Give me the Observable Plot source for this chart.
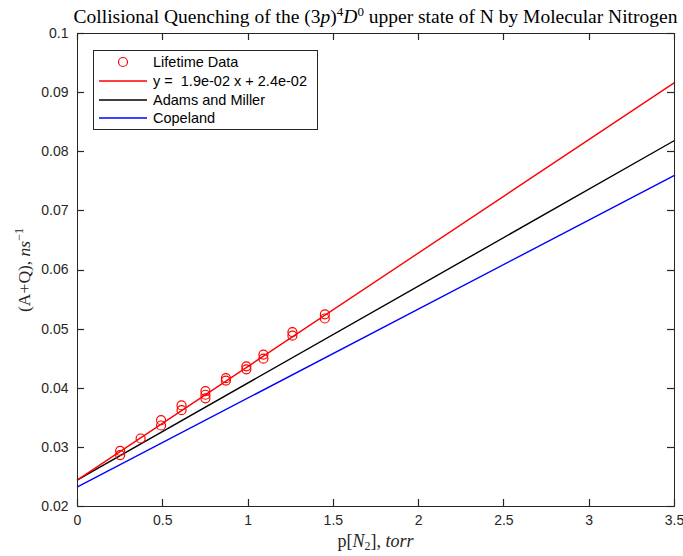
<!DOCTYPE html>
<html>
<head>
<meta charset="utf-8">
<script src="https://cdn.jsdelivr.net/npm/d3@7"></script>
<script src="https://cdn.jsdelivr.net/npm/@observablehq/plot@0.6"></script>
<style>
  html, body { margin: 0; padding: 0; background: #fff; }
  #chart { width: 683px; height: 556px; }
</style>
</head>
<body>
<div id="chart"></div>
<script>
// ---- data ----
const pressure = [0.25, 0.25, 0.37, 0.49, 0.49, 0.61, 0.61, 0.75, 0.75, 0.75, 0.87, 0.87, 0.99, 0.99, 1.09, 1.09, 1.26, 1.26, 1.45, 1.45];
const rate     = [0.0294, 0.0287, 0.0315, 0.0346, 0.0337, 0.0371, 0.0363, 0.0395, 0.0389, 0.0383, 0.0417, 0.0413, 0.0437, 0.0432, 0.0457, 0.0450, 0.0495, 0.0489, 0.0525, 0.0518];
const lineX    = [0, 3.5];
const fitY     = [0.0245, 0.0917];
const adamsY   = [0.0245, 0.0819];
const copelandY = [0.0233, 0.0760];
const xTicks = [0, 0.5, 1, 1.5, 2, 2.5, 3, 3.5];
const yTicks = [0.02, 0.03, 0.04, 0.05, 0.06, 0.07, 0.08, 0.09, 0.1];
const legendLabels = ["Lifetime Data", "y =  1.9e-02 x + 2.4e-02", "Adams and Miller", "Copeland"];
const legendColors = ["#ff0000", "#ff0000", "#000000", "#0000ff"];

const points = pressure.map((p, i) => ({p, r: rate[i]}));
const mkLine = (ys, name) => lineX.map((x, i) => ({x, y: ys[i], name}));
const lines = [...mkLine(copelandY, "Copeland"), ...mkLine(adamsY, "Adams"), ...mkLine(fitY, "Fit")];

const axisColor = "#262626";
const fmt = d => String(+d.toFixed(2));

const W = 683, H = 556, ML = 77, MR = 9, MT = 33, MB = 50, TL = 7;

const plot = Plot.plot({
  width: W,
  height: H,
  marginLeft: ML,
  marginRight: MR,
  marginTop: MT,
  marginBottom: MB,
  style: {fontFamily: "'Liberation Sans', Arial, sans-serif", fontSize: "14px", color: axisColor, background: "#fff"},
  x: {domain: [0, 3.5], ticks: xTicks, label: null},
  y: {domain: [0.02, 0.1], ticks: yTicks, label: null},
  color: {domain: ["Fit", "Adams", "Copeland"], range: ["#ff0000", "#000000", "#0000ff"]},
  marks: [
    Plot.line(lines, {x: "x", y: "y", z: "name", stroke: "name", strokeWidth: 1.4}),
    Plot.dot(points, {x: "p", y: "r", r: 4.5, stroke: "#ff0000", strokeWidth: 1.2, fill: "none"}),
    Plot.frame({stroke: axisColor, strokeWidth: 1}),
    Plot.axisX(xTicks, {anchor: "bottom", tickSize: 0, tickPadding: 9, tickFormat: fmt, label: null, fontSize: 14}),
    Plot.axisY(yTicks, {anchor: "left", tickSize: 0, tickPadding: 9, tickFormat: fmt, label: null, fontSize: 14})
  ]
});

document.getElementById("chart").appendChild(plot);

const svg = d3.select(plot);
const serif = "'Liberation Serif', 'Times New Roman', serif";

// inward ticks on all four sides, placed with the plot's own scales
const sx = plot.scale("x"), sy = plot.scale("y");
const xs = d3.scaleLinear(sx.domain, sx.range);
const ys = d3.scaleLinear(sy.domain, sy.range);
const [x0, x1] = sx.range, [yB, yT] = sy.range;
const tg = svg.append("g").attr("stroke", axisColor).attr("stroke-width", 1.2).attr("fill", "none");
xTicks.forEach(v => {
  const px = Math.round(xs(v)) + 0.5;
  tg.append("line").attr("x1", px).attr("x2", px).attr("y1", yB).attr("y2", yB - TL);
  tg.append("line").attr("x1", px).attr("x2", px).attr("y1", yT).attr("y2", yT + TL);
});
yTicks.forEach(v => {
  const py = Math.round(ys(v)) + 0.5;
  tg.append("line").attr("y1", py).attr("y2", py).attr("x1", x0).attr("x2", x0 + TL);
  tg.append("line").attr("y1", py).attr("y2", py).attr("x1", x1).attr("x2", x1 - TL);
});

// title
const title = svg.append("text")
  .attr("x", 375.5).attr("y", 23)
  .attr("text-anchor", "middle")
  .attr("font-family", serif).attr("font-size", 19.5).attr("fill", "#000");
title.append("tspan").text("Collisional Quenching of the (3");
title.append("tspan").attr("font-style", "italic").text("p");
title.append("tspan").text(")");
title.append("tspan").attr("font-size", 13).attr("dy", -7).text("4");
title.append("tspan").attr("font-style", "italic").attr("dy", 7).text("D");
title.append("tspan").attr("font-size", 13).attr("dy", -7).text("0");
title.append("tspan").attr("dy", 7).text(" upper state of N by Molecular Nitrogen");

// x label
const xl = svg.append("text")
  .attr("x", 375.5).attr("y", 547)
  .attr("text-anchor", "middle")
  .attr("font-family", serif).attr("font-size", 18).attr("fill", "#262626");
xl.append("tspan").text("p[");
xl.append("tspan").attr("font-style", "italic").text("N");
xl.append("tspan").attr("font-size", 12).attr("dy", 3).text("2");
xl.append("tspan").attr("dy", -3).text("], ");
xl.append("tspan").attr("font-style", "italic").text("torr");

// y label
const yl = svg.append("text")
  .attr("transform", "translate(30,270) rotate(-90)")
  .attr("text-anchor", "middle")
  .attr("font-family", serif).attr("font-size", 17.5).attr("fill", "#262626");
yl.append("tspan").text("(A+Q), ");
yl.append("tspan").attr("font-style", "italic").text("ns");
yl.append("tspan").attr("font-size", 12).attr("dy", -7).text("−1");

// legend
const lg = svg.append("g");
lg.append("rect").attr("x", 93.5).attr("y", 50.5).attr("width", 224).attr("height", 79)
  .attr("fill", "#fff").attr("stroke", "#262626").attr("stroke-width", 1);
const rowY = [62, 81, 100, 118];
legendLabels.forEach((lab, i) => {
  const y = rowY[i];
  if (i === 0) {
    lg.append("circle").attr("cx", 123).attr("cy", y).attr("r", 4.5)
      .attr("fill", "none").attr("stroke", legendColors[i]).attr("stroke-width", 1.2);
  } else {
    lg.append("line").attr("x1", 99).attr("x2", 147).attr("y1", y).attr("y2", y)
      .attr("stroke", legendColors[i]).attr("stroke-width", 1.4);
  }
  lg.append("text").attr("x", 153).attr("y", y).attr("dy", "0.35em")
    .attr("text-anchor", "start")
    .attr("font-family", "'Liberation Sans', Arial, sans-serif").attr("font-size", 14.5)
    .attr("fill", "#000").text(lab);
});
</script>
</body>
</html>
